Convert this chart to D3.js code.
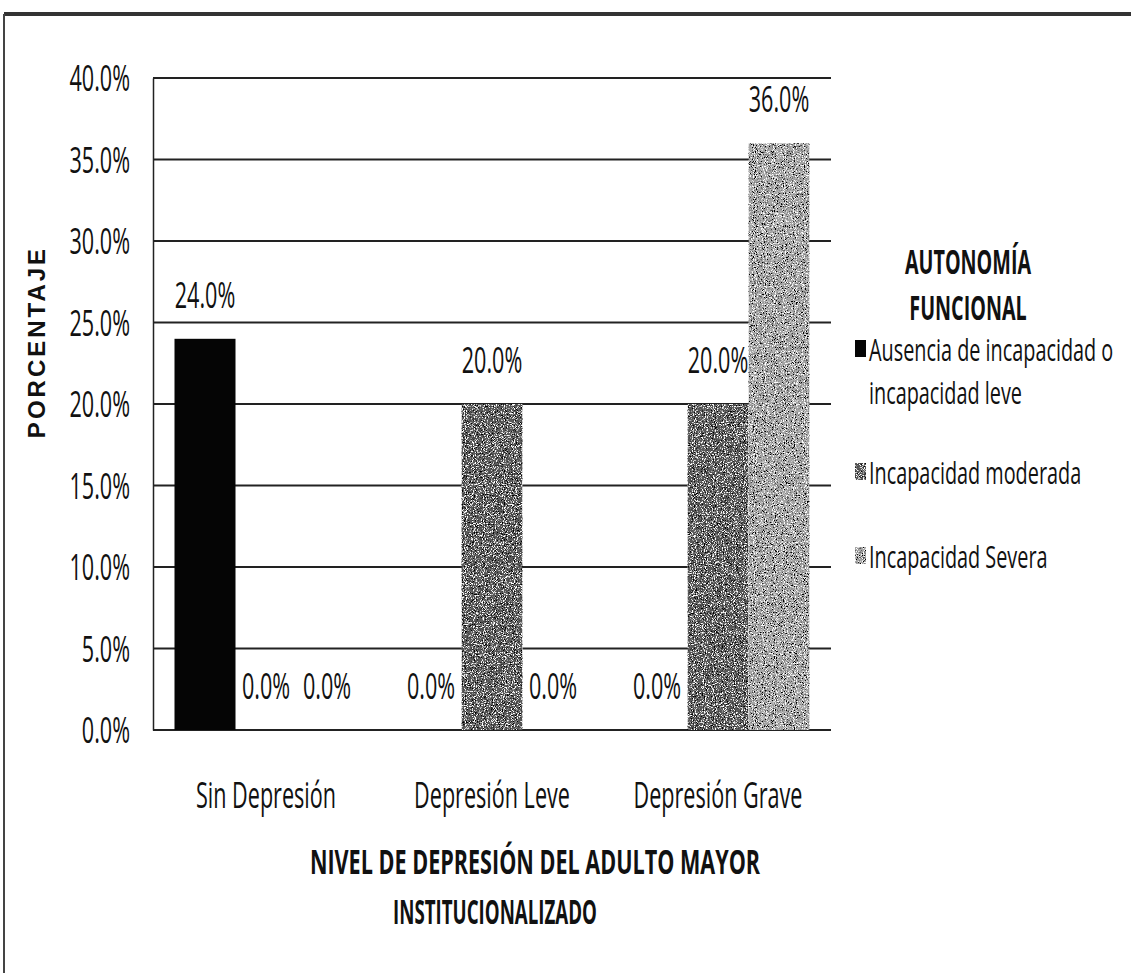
<!DOCTYPE html>
<html>
<head>
<meta charset="utf-8">
<script src="https://cdn.jsdelivr.net/npm/d3@7"></script>
<style>
  html, body { margin: 0; padding: 0; background: #fff; }
  svg { display: block; font-family: "Open Sans", sans-serif; }
</style>
</head>
<body>
<svg id="chart" width="1131" height="973"></svg>
<script>
// ---- data ----
const categories = ['Sin Depresión', 'Depresión Leve', 'Depresión Grave'];
const ausencia = [24.0, 0.0, 0.0];
const moderada = [0.0, 20.0, 20.0];
const severa   = [0.0, 0.0, 36.0];
const yTicks = [0, 5, 10, 15, 20, 25, 30, 35, 40];
const legendTitle = ['AUTONOMÍA', 'FUNCIONAL'];
const legendLines = [
  ['Ausencia de incapacidad o', 'incapacidad leve'],
  ['Incapacidad moderada'],
  ['Incapacidad Severa']
];
const xTitle = ['NIVEL DE DEPRESIÓN DEL ADULTO MAYOR', 'INSTITUCIONALIZADO'];
const yTitle = 'PORCENTAJE';

const series = [ausencia, moderada, severa];

// ---- layout ----
const W = 1131, H = 973;
const plot = { left: 153, right: 831, top: 78, bottom: 730 };
const SX = 0.6;          // scanned text is strongly condensed
const FS = 36;           // base font size

const svg = d3.select('#chart');

// scan-like grain for the grey bars
const defs = svg.append('defs');
const f = defs.append('filter').attr('id', 'grain')
  .attr('x', 0).attr('y', 0).attr('width', 1).attr('height', 1);
f.append('feTurbulence').attr('type', 'fractalNoise').attr('baseFrequency', 0.9)
  .attr('numOctaves', 2).attr('seed', 7).attr('result', 'noise');
f.append('feColorMatrix').attr('in', 'noise').attr('type', 'matrix')
  .attr('values', '0 0 0 0 0  0 0 0 0 0  0 0 0 0 0  7 0 0 0 -3.6').attr('result', 'darkA');
f.append('feFlood').attr('flood-color', '#000').attr('result', 'blk');
f.append('feComposite').attr('in', 'blk').attr('in2', 'darkA').attr('operator', 'in').attr('result', 'dark');
f.append('feColorMatrix').attr('in', 'noise').attr('type', 'matrix')
  .attr('values', '0 0 0 0 0  0 0 0 0 0  0 0 0 0 0  0 -7 0 0 3.2').attr('result', 'lightA');
f.append('feFlood').attr('flood-color', '#fff').attr('result', 'wht');
f.append('feComposite').attr('in', 'wht').attr('in2', 'lightA').attr('operator', 'in').attr('result', 'light');
const m = f.append('feMerge').attr('result', 'merged');
m.append('feMergeNode').attr('in', 'SourceGraphic');
m.append('feMergeNode').attr('in', 'dark');
m.append('feMergeNode').attr('in', 'light');
f.append('feComposite').attr('in', 'merged').attr('in2', 'SourceGraphic').attr('operator', 'in');

const barFill = ['#050505', '#5a5a5a', '#a6a6a6'];
const barFilter = [null, 'url(#grain)', 'url(#grain)'];

// condensed text helper
function ctext(sel, x, y, str, opt = {}) {
  return sel.append('text')
    .attr('transform', `translate(${x},${y}) scale(${opt.sx || SX},1)`)
    .attr('text-anchor', opt.anchor || 'middle')
    .attr('font-size', opt.size || FS)
    .attr('font-weight', opt.weight || 400)
    .attr('fill', '#111')
    .text(str);
}

// ---- frame of the scan ----
svg.append('line').attr('x1', 4).attr('x2', W).attr('y1', 14).attr('y2', 14)
  .attr('stroke', '#333').attr('stroke-width', 4);
svg.append('line').attr('x1', 4).attr('x2', 4).attr('y1', 14).attr('y2', H)
  .attr('stroke', '#444').attr('stroke-width', 2);

// ---- scales ----
const y = d3.scaleLinear().domain([0, 40]).range([plot.bottom, plot.top]);
const x0 = d3.scaleBand().domain(categories).range([plot.left, plot.right]);
const x1 = d3.scaleBand().domain(d3.range(series.length))
  .range([21.5, x0.bandwidth() - 21.5]);

// ---- gridlines ----
svg.append('g').selectAll('line').data(yTicks).join('line')
  .attr('x1', plot.left).attr('x2', plot.right)
  .attr('y1', d => y(d)).attr('y2', d => y(d))
  .attr('stroke', '#222').attr('stroke-width', 2);

// ---- y axis ----
const yAxis = svg.append('g')
  .attr('transform', `translate(${plot.left},0)`)
  .call(d3.axisLeft(y).tickValues(yTicks).tickSize(0)
    .tickFormat(d => d.toFixed(1) + '%'));
yAxis.select('.domain').attr('stroke', '#222').attr('stroke-width', 1.5);
yAxis.selectAll('text')
  .attr('x', 0).attr('dy', '0.36em')
  .attr('transform', `translate(-23,0) scale(${SX},1)`)
  .attr('font-size', FS).attr('font-family', '"Open Sans", sans-serif')
  .attr('fill', '#111');

// ---- bars ----
series.forEach((vals, s) => {
  svg.append('g').selectAll('rect').data(vals).join('rect')
    .attr('x', (d, i) => x0(categories[i]) + x1(s))
    .attr('y', d => y(d))
    .attr('width', x1.bandwidth())
    .attr('height', d => y(0) - y(d))
    .attr('fill', barFill[s])
    .attr('filter', barFilter[s]);
});

// ---- data labels ----
const labels = svg.append('g');
series.forEach((vals, s) => {
  vals.forEach((v, i) => {
    ctext(labels, x0(categories[i]) + x1(s) + x1.bandwidth() / 2, y(v) - 31,
      v.toFixed(1) + '%');
  });
});

// ---- category labels ----
categories.forEach(c => {
  ctext(svg, x0(c) + x0.bandwidth() / 2, 808, c);
});

// ---- axis titles ----
// the scan shows the first title line shifted right of the plot centre
const xTitleX = [535, 495];
const xTitleSx = [0.635, 0.55];
xTitle.forEach((t, i) => {
  ctext(svg, xTitleX[i], 874 + i * 50, t, { weight: 700, size: 34, sx: xTitleSx[i] });
});
svg.append('text')
  .attr('transform', 'translate(45,342) rotate(-90)')
  .attr('text-anchor', 'middle')
  .attr('font-family', '"Liberation Sans", Arial, sans-serif')
  .attr('font-size', 24).attr('font-weight', 700)
  .attr('letter-spacing', 3)
  .attr('fill', '#111')
  .text(yTitle);

// ---- legend ----
const lg = svg.append('g');
legendTitle.forEach((t, i) => {
  ctext(lg, 968, 274 + i * 46, t, { weight: 700, size: 34, sx: 0.58 });
});
const entryY = [361, 484, 568];
legendLines.forEach((lines, s) => {
  lg.append('rect')
    .attr('x', 855).attr('y', entryY[s] - 21)
    .attr('width', 11).attr('height', 17)
    .attr('fill', barFill[s]).attr('filter', barFilter[s]);
  lines.forEach((ln, k) => {
    ctext(lg, 869, entryY[s] + k * 43, ln, { anchor: 'start', size: 31, sx: 0.64 });
  });
});
</script>
</body>
</html>
